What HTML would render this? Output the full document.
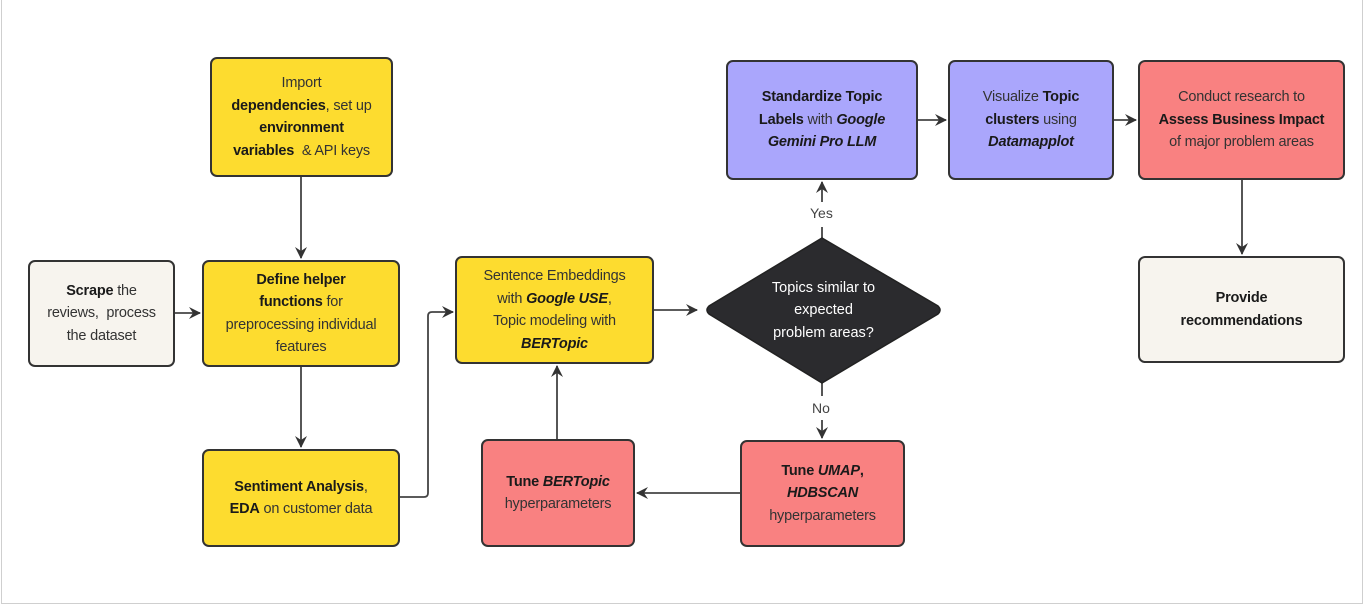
<!DOCTYPE html>
<html><head><meta charset="utf-8"><style>
body{margin:0;width:1368px;height:608px;background:#fff;position:relative;overflow:hidden;font-family:"Liberation Sans",sans-serif;}
.frame{position:absolute;left:1px;top:0;width:1360px;height:603px;border:1px solid #cfcfcf;border-top:none;}
.n{position:absolute;box-sizing:border-box;border:2px solid #333;border-radius:7px;display:flex;align-items:center;justify-content:center;text-align:center;font-size:14.5px;line-height:22.5px;color:#333;padding:0 4px;letter-spacing:-0.2px;}
.y{background:#fddc2f}.p{background:#f98181}.v{background:#aaa6fc}.b{background:#f7f4ee}
b{color:#1a1a1a}
svg{position:absolute;left:0;top:0}
.d{position:absolute;left:705px;top:238px;width:237px;height:145px;color:#fff;display:flex;align-items:center;justify-content:center;text-align:center;font-size:14.5px;line-height:22.5px;}
.lbl{position:absolute;font-size:14px;color:#444;background:#fff;}
</style></head><body>
<div class="frame"></div>
<svg width="1368" height="608">
<defs><marker id="a" markerWidth="14" markerHeight="14" refX="11" refY="6" orient="auto" markerUnits="userSpaceOnUse"><path d="M0,0 L12,6 L0,12 L4,6z" fill="#333"/></marker></defs>
<g stroke="#444" stroke-width="1.8" fill="none">
<path d="M301,177 V258" marker-end="url(#a)"/>
<path d="M175,313 H200" marker-end="url(#a)"/>
<path d="M301,367 V447" marker-end="url(#a)"/>
<path d="M400,497 H424 Q428,497 428,493 V316 Q428,312 432,312 H453" marker-end="url(#a)"/>
<path d="M654,310 H697" marker-end="url(#a)"/>
<path d="M822,238 V227 M822,202 V182" marker-end="url(#a)"/>
<path d="M822,383 V396 M822,420 V438" marker-end="url(#a)"/>
<path d="M740,493 H637" marker-end="url(#a)"/>
<path d="M557,439 V366" marker-end="url(#a)"/>
<path d="M918,120 H946" marker-end="url(#a)"/>
<path d="M1114,120 H1136" marker-end="url(#a)"/>
<path d="M1242,180 V254" marker-end="url(#a)"/>
</g>
<path d="M822,238 L938,306 Q942,310 938,314 L822,383 L709,314 Q705,310 709,306 Z" fill="#2b2b2e" stroke="#222" stroke-width="1.5"/>
</svg>
<div class="n y" style="left:210px;top:57px;width:183px;height:120px"><span>Import<br><b>dependencies</b>, set up<br><b>environment</b><br><b>variables</b>&nbsp; &amp; API keys</span></div>
<div class="n b" style="left:28px;top:260px;width:147px;height:107px"><span><b>Scrape</b> the<br>reviews,&nbsp; process<br>the dataset</span></div>
<div class="n y" style="left:202px;top:260px;width:198px;height:107px"><span><b>Define helper<br>functions</b> for<br>preprocessing individual<br>features</span></div>
<div class="n y" style="left:202px;top:449px;width:198px;height:98px"><span><b>Sentiment Analysis</b>,<br><b>EDA</b> on customer data</span></div>
<div class="n y" style="left:455px;top:256px;width:199px;height:108px"><span>Sentence Embeddings<br>with <b><i>Google USE</i></b>,<br>Topic modeling with<br><b><i>BERTopic</i></b></span></div>
<div class="d"><span>Topics similar to<br>expected<br>problem areas?</span></div>
<div class="lbl" style="left:810px;top:205px">Yes</div>
<div class="lbl" style="left:812px;top:400px">No</div>
<div class="n p" style="left:481px;top:439px;width:154px;height:108px"><span><b>Tune <i>BERTopic</i></b><br>hyperparameters</span></div>
<div class="n p" style="left:740px;top:440px;width:165px;height:107px"><span><b>Tune <i>UMAP</i>,<br><i>HDBSCAN</i></b><br>hyperparameters</span></div>
<div class="n v" style="left:726px;top:60px;width:192px;height:120px"><span><b>Standardize Topic<br>Labels</b> with <b><i>Google<br>Gemini Pro LLM</i></b></span></div>
<div class="n v" style="left:948px;top:60px;width:166px;height:120px"><span>Visualize <b>Topic<br>clusters</b> using<br><b><i>Datamapplot</i></b></span></div>
<div class="n p" style="left:1138px;top:60px;width:207px;height:120px"><span>Conduct research to<br><b>Assess Business Impact</b><br>of major problem areas</span></div>
<div class="n b" style="left:1138px;top:256px;width:207px;height:107px"><span><b>Provide<br>recommendations</b></span></div>
</body></html>
